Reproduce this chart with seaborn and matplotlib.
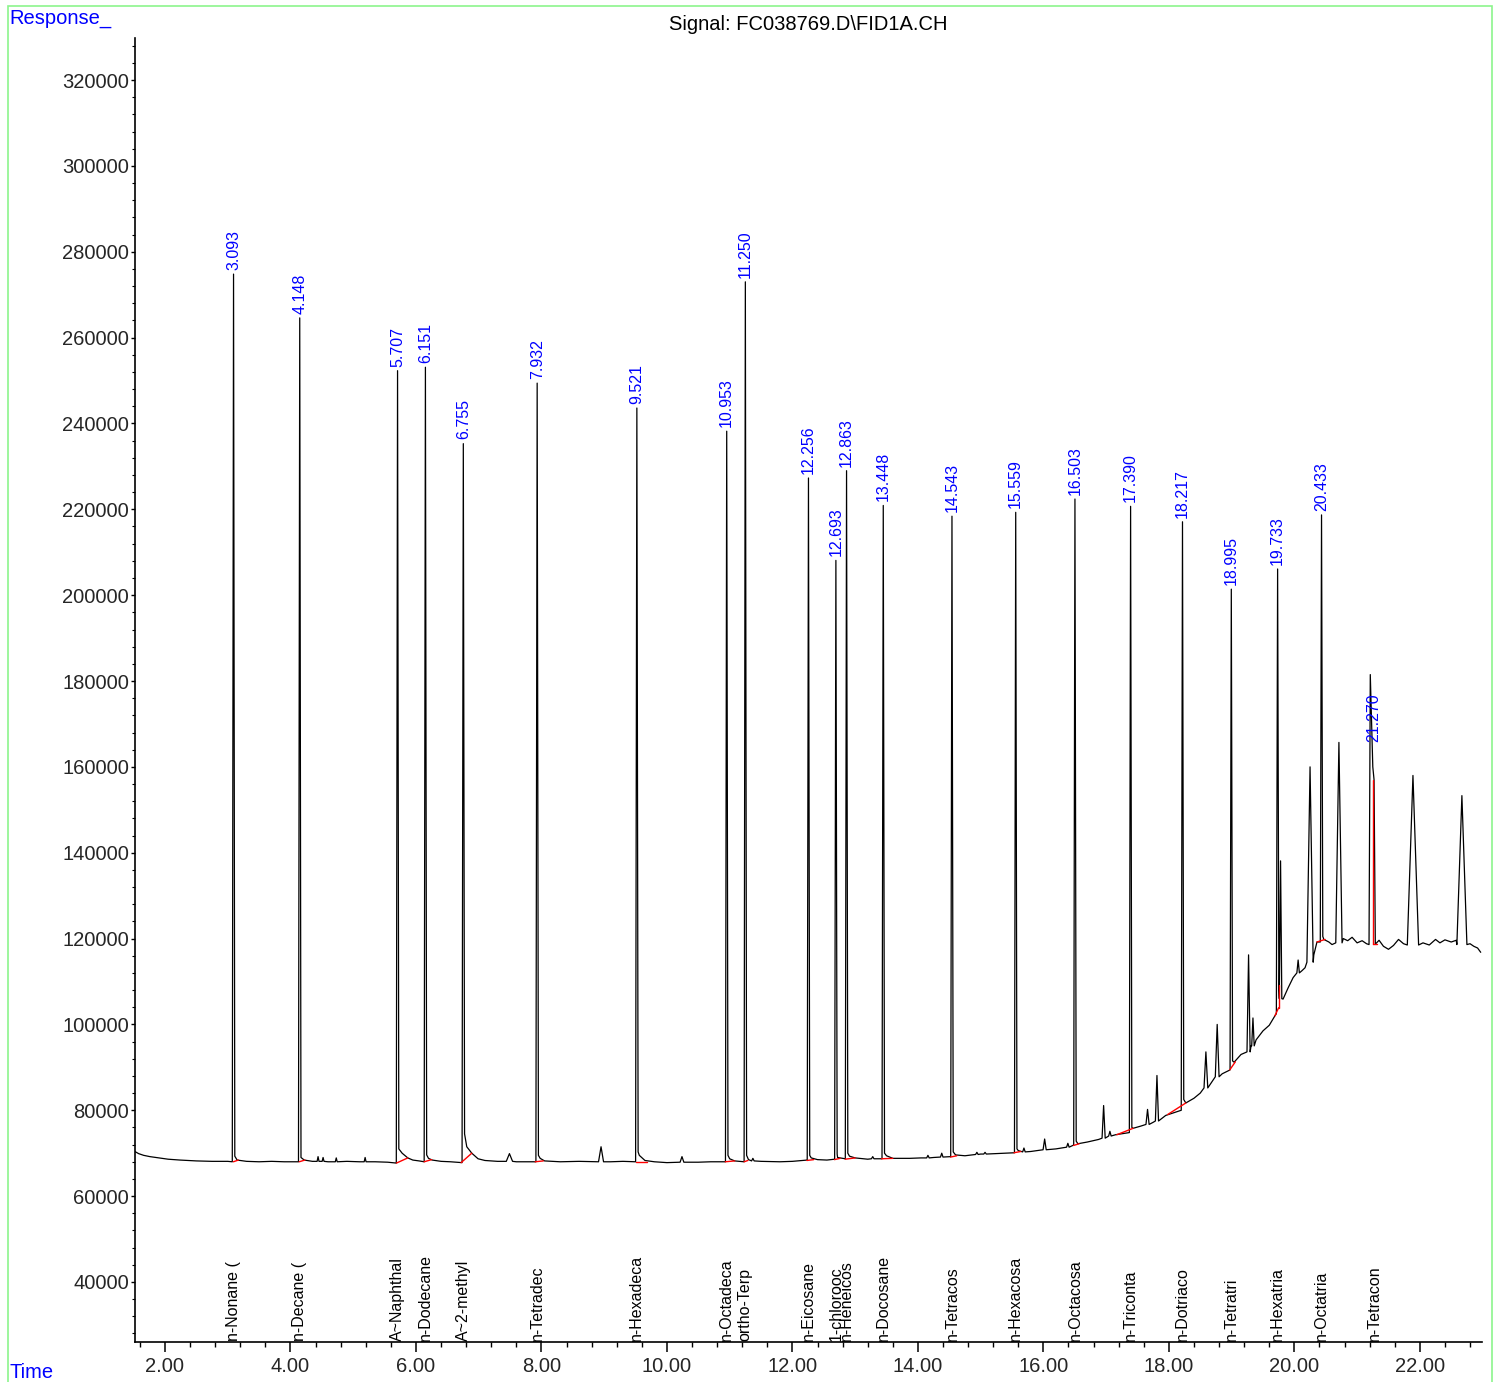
import matplotlib
matplotlib.use("Agg")
import matplotlib.pyplot as plt
import matplotlib.patches as mpatches
from matplotlib.ticker import MultipleLocator, FormatStrFormatter
import seaborn as sns
import pandas as pd

# named peaks: retention time, compound, apex, foot before apex, value just after apex
rt = [3.093, 4.148, 5.707, 6.151, 6.755, 7.932, 9.521, 10.953, 11.250, 12.256,
      12.693, 12.863, 13.448, 14.543, 15.559, 16.503, 17.390, 18.217, 18.995,
      19.733, 20.433, 21.270]
names = ["n-Nonane (", "n-Decane (", "A~Naphthal", "n-Dodecane", "A~2-methyl",
         "n-Tetradec", "n-Hexadeca", "n-Octadeca", "ortho-Terp", "n-Eicosane",
         "1-chlorooc", "n-Heneicos", "n-Docosane", "n-Tetracos", "n-Hexacosa",
         "n-Octacosa", "n-Triconta", "n-Dotriaco", "n-Tetratri", "n-Hexatria",
         "n-Octatria", "n-Tetracon"]
rt_top = [274800, 264600, 252300, 253100, 235300, 249400, 243600, 238200, 273000,
          227300, 208100, 229000, 220900, 218400, 219300, 222400, 220700, 217100,
          201400, 206100, 218700, 157000]
rt_foot = [68000, 68000, 67700, 68000, 67800, 68000, 68000, 68000, 68000, 68400,
           68600, 68700, 68700, 69200, 70100, 71900, 74800, 80000, 89400, 102500,
           119200, 160000]
rt_knee = [69300, 69000, 71000, 69600, 74500, 69500, 70300, 69500, 69500, 69500,
           69800, 70000, 70000, 70300, 71000, 72800, 76000, 82500, 91500, 108000,
           120500, 118700]
# where each blue retention time label starts
tag_v = rt_top[:-1] + [164800]

# unlabelled peaks: time, apex, foot, half width (min)
ex_t = [4.44, 4.52, 4.73, 5.19, 7.49, 8.95, 10.24, 11.37, 13.28, 14.16, 14.38,
        14.94, 15.07, 15.69, 16.02, 16.39, 16.96, 17.06, 17.66, 17.81, 18.59,
        18.77, 19.27, 19.34, 19.78, 20.06, 20.25, 20.71, 21.89, 22.67]
ex_top = [69200, 69000, 68900, 69000, 69900, 71500, 69200, 68800, 69200, 69500,
          70000, 70200, 70200, 71200, 73300, 72300, 81100, 75100, 80200, 88100,
          93600, 100000, 116200, 101500, 138100, 115000, 160000, 165700, 158000,
          153300]
ex_foot = [68100, 68100, 68000, 68000, 68100, 68000, 67900, 68200, 68700, 68900,
           69100, 69700, 69800, 70300, 70800, 71400, 73500, 74000, 76700, 77500,
           85200, 87800, 93600, 95000, 106000, 112000, 114500, 119000, 118500,
           118600]
ex_w = [0.015, 0.015, 0.015, 0.015, 0.05, 0.04, 0.03, 0.02, 0.02, 0.02, 0.02,
        0.02, 0.02, 0.02, 0.025, 0.02, 0.025, 0.02, 0.025, 0.025, 0.03, 0.03,
        0.025, 0.02, 0.02, 0.02, 0.05, 0.05, 0.09, 0.08]

# trace points between the peaks
bg_t = [1.52, 1.58, 1.66, 1.76, 1.90, 2.05, 2.24, 2.50, 2.75, 3.00, 3.15, 3.30,
        3.50, 3.70, 3.90, 4.22, 4.35, 4.60, 4.90, 5.10, 5.35, 5.55, 5.78, 5.87,
        5.95, 6.05, 6.20, 6.26, 6.40, 6.55, 6.81, 6.89, 6.99, 7.10, 7.30, 7.60,
        7.80, 7.98, 8.05, 8.30, 8.60, 8.85, 9.10, 9.30, 9.56, 9.65, 9.80, 10.00,
        10.50, 10.70, 11.00, 11.08, 11.30, 11.50, 11.80, 12.00, 12.30, 12.40,
        12.55, 12.72, 12.91, 13.00, 13.20, 13.50, 13.60, 13.87, 14.05, 14.25,
        14.60, 14.75, 15.00, 15.25, 15.60, 15.80, 15.90, 16.20, 16.55, 16.70,
        16.88, 17.15, 17.43, 17.55, 17.75, 17.95, 18.27, 18.40, 18.50, 18.68,
        18.85, 19.04, 19.15, 19.23, 19.31, 19.39, 19.50, 19.60, 19.69, 19.82,
        19.90, 19.98, 20.12, 20.17, 20.31, 20.36, 20.47, 20.55, 20.60, 20.78,
        20.85, 20.92, 21.00, 21.08, 21.15, 21.19, 21.21, 21.35, 21.42, 21.50,
        21.58, 21.66, 21.74, 22.05, 22.15, 22.25, 22.32, 22.40, 22.50, 22.58,
        22.80, 22.86, 22.92, 22.97]
bg_v = [70400, 69900, 69500, 69200, 68900, 68600, 68400, 68200, 68100, 68100,
        68400, 68100, 68000, 68100, 68000, 68400, 68100, 68000, 68100, 68000,
        68000, 67900, 70000, 68900, 68400, 68200, 68800, 68400, 68100, 68000,
        71500, 70000, 68700, 68300, 68100, 68000, 68000, 68800, 68200, 68000,
        68100, 68000, 68000, 68100, 69500, 68300, 68000, 67800, 67900, 68000,
        68700, 68200, 68500, 68100, 68000, 68100, 68900, 68500, 68400, 69000,
        69300, 68900, 68600, 69400, 68800, 68800, 68900, 69000, 69600, 69400,
        69800, 69900, 70600, 70400, 70600, 71000, 72200, 72600, 73200, 74300,
        75800, 76300, 77200, 78800, 81700, 82800, 84000, 86500, 88500, 91200,
        93000, 93500, 95000, 96400, 98500, 99800, 102000, 105900, 108500, 110900,
        112500, 113200, 116200, 119200, 119800, 119200, 118600, 120000, 119500,
        120300, 119000, 119500, 118800, 118600, 181500, 119600, 118200, 117500,
        118400, 119800, 118800, 119000, 118500, 119800, 119000, 119700, 119200,
        119600, 118800, 118200, 117800, 116800]

# red integration baselines
red_t0 = [3.09, 4.14, 5.69, 6.13, 6.72, 7.90, 9.50, 10.93, 11.23, 12.23, 12.67,
          12.84, 13.42, 14.52, 15.53, 16.48, 17.17, 17.98, 18.97, 19.69, 19.75,
          20.36, 21.26, 21.26]
red_v0 = [68000, 68000, 67700, 68000, 67800, 68000, 68000, 68000, 68000, 68300,
          68500, 68600, 68700, 69100, 70100, 71800, 74300, 79000, 89400, 102000,
          103900, 119200, 118700, 118700]
red_t1 = [3.17, 4.23, 5.87, 6.25, 6.89, 8.03, 9.69, 11.08, 11.29, 12.34, 12.76,
          13.00, 13.60, 14.62, 15.64, 16.57, 17.43, 18.27, 19.06, 19.75, 19.75,
          20.49, 21.26, 21.32]
red_v1 = [68400, 68400, 68900, 68500, 70000, 68200, 68000, 68200, 68300, 68500,
          68800, 68900, 68800, 69400, 70400, 72200, 75800, 81700, 91300, 103900,
          109200, 119800, 157000, 118700]

# assemble the trace
spans = [(t - 0.02, t + 0.02) for t in rt] + [(t - w, t + w) for t, w in zip(ex_t, ex_w)]
pts = [(t, v) for t, v in zip(bg_t, bg_v)
       if not any(a <= t <= b for a, b in spans)]
for t, top, f, k in zip(rt, rt_top, rt_foot, rt_knee):
    pts += [(t - 0.02, f), (t, top), (t + 0.02, k)]
for t, top, f, w in zip(ex_t, ex_top, ex_foot, ex_w):
    pts += [(t - w, f), (t, top), (t + w, f)]
trace = pd.DataFrame(sorted(pts), columns=["time", "response"])

sns.set_theme(style="white")
plt.rcParams["font.family"] = ["Liberation Sans", "DejaVu Sans"]

fig = plt.figure(figsize=(14.98, 13.82), dpi=100)
ax = fig.add_axes([0.0901, 0.0289, 0.8992, 0.9436])

sns.lineplot(data=trace, x="time", y="response", estimator=None, sort=False,
             color="black", linewidth=0.9, ax=ax)
for x0, y0, x1, y1 in zip(red_t0, red_v0, red_t1, red_v1):
    ax.plot([x0, x1], [y0, y1], color="red", linewidth=1.0)

ax.set_xlim(1.522, 22.99)
ax.set_ylim(26000, 329800)

ax.xaxis.set_major_locator(MultipleLocator(2))
ax.xaxis.set_minor_locator(MultipleLocator(0.4))
ax.xaxis.set_major_formatter(FormatStrFormatter("%.2f"))
ax.yaxis.set_major_locator(MultipleLocator(20000))
ax.yaxis.set_minor_locator(MultipleLocator(4000))
ax.yaxis.set_major_formatter(FormatStrFormatter("%d"))
ax.set_yticks([v for v in range(40000, 320001, 20000)])

ax.tick_params(axis="x", which="major", direction="out", length=7, width=1.1,
               labelsize=14.5, pad=3.5, bottom=True, color="black")
ax.tick_params(axis="x", which="minor", direction="out", length=3.6, width=1.0,
               bottom=True, color="black")
ax.tick_params(axis="y", which="major", direction="out", length=3, width=1.0,
               labelsize=14.5, pad=1.2, left=True, color="black")
ax.tick_params(axis="y", which="minor", direction="out", length=2, width=0.8,
               left=True, color="black")
for s in ["top", "right"]:
    ax.spines[s].set_visible(False)
for s in ["left", "bottom"]:
    ax.spines[s].set_color("black")
    ax.spines[s].set_linewidth(1.2)
ax.set_xlabel("")
ax.set_ylabel("")
ax.grid(False)

# retention time labels
for t, v in zip(rt, tag_v):
    ax.annotate(f"{t:.3f}", xy=(t, v), xytext=(0, 3), textcoords="offset points",
                rotation=90, ha="center", va="bottom", color="#0000ff", fontsize=11.5)

# compound names along the bottom
for t, n in zip(rt, names):
    ax.annotate(n, xy=(t, 26000), xytext=(0, 1), textcoords="offset points",
                rotation=90, ha="center", va="bottom", color="black", fontsize=11.5)

fig.text(808 / 1498, 1 - 25 / 1382, "Signal: FC038769.D\\FID1A.CH", ha="center",
         va="center", fontsize=14.5, color="black")
fig.text(9 / 1498, 1 - 19 / 1382, "Response_", ha="left", va="center",
         fontsize=14.5, color="#0000ff")
fig.text(10 / 1498, 1 - 1372 / 1382, "Time", ha="left", va="center",
         fontsize=14.5, color="#0000ff")

fig.patches.append(mpatches.Rectangle((8 / 1498, -0.01), 1484 / 1498, 1 - 6 / 1382 + 0.01,
                                      transform=fig.transFigure, fill=False,
                                      edgecolor="#8cf58c", linewidth=1.2))

fig.savefig("out.png", dpi=100)
